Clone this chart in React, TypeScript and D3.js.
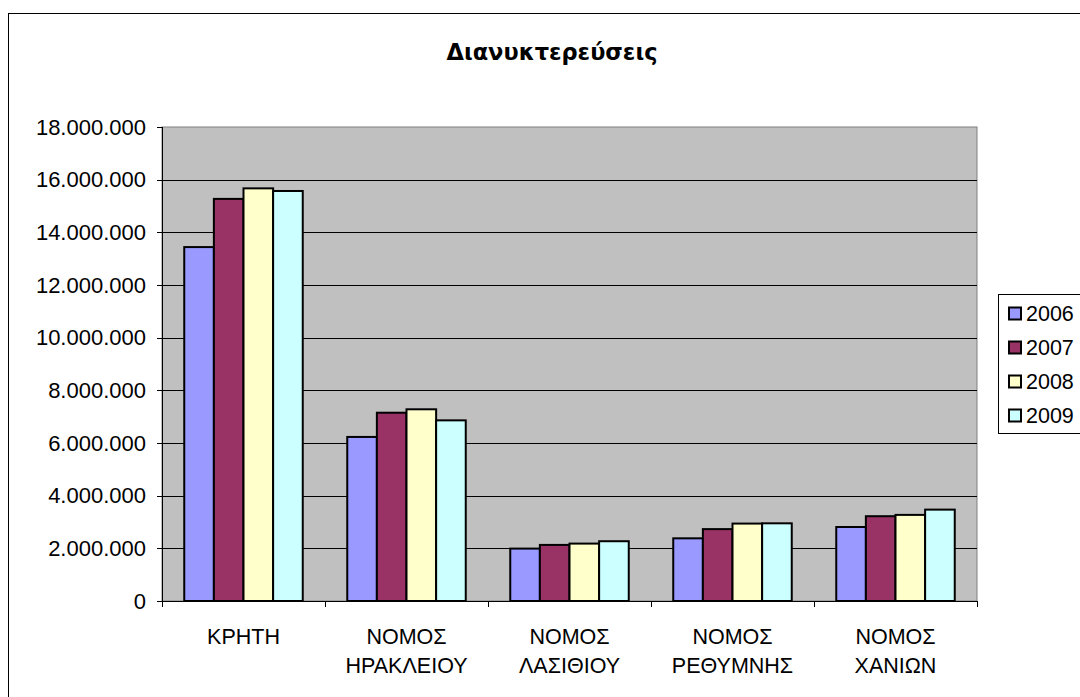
import React from "react";
import * as d3 from "d3";

const categories: string[][] = [
  ["ΚΡΗΤΗ"],
  ["ΝΟΜΟΣ", "ΗΡΑΚΛΕΙΟΥ"],
  ["ΝΟΜΟΣ", "ΛΑΣΙΘΙΟΥ"],
  ["ΝΟΜΟΣ", "ΡΕΘΥΜΝΗΣ"],
  ["ΝΟΜΟΣ", "ΧΑΝΙΩΝ"],
];
const seriesNames = ["2006", "2007", "2008", "2009"];
const values2006 = [13440000, 6230000, 1990000, 2380000, 2810000];
const values2007 = [15270000, 7150000, 2130000, 2730000, 3220000];
const values2008 = [15670000, 7280000, 2180000, 2940000, 3270000];
const values2009 = [15570000, 6860000, 2270000, 2950000, 3470000];
const yTicks = [0, 2000000, 4000000, 6000000, 8000000, 10000000, 12000000, 14000000, 16000000, 18000000];
const title = "Διανυκτερεύσεις";
const colors = ["#9999FF", "#993366", "#FFFFCC", "#CCFFFF"];

const seriesValues = [values2006, values2007, values2008, values2009];

const W = 1080;
const H = 697;
const plot = { left: 162, right: 977, top: 127, bottom: 601 };
const font = "'Liberation Sans', Arial, sans-serif";

const locale = d3.formatLocale({ decimal: ",", thousands: ".", grouping: [3], currency: ["", ""] });
const fmt = locale.format(",");

export default function App() {
  const x = d3
    .scaleBand<number>()
    .domain(categories.map((_, i) => i))
    .range([plot.left, plot.right])
    .paddingInner(0.273)
    .paddingOuter(0.1365);
  const xs = d3
    .scaleBand<number>()
    .domain(seriesNames.map((_, i) => i))
    .range([0, x.bandwidth()])
    .padding(0);
  const y = d3.scaleLinear().domain([0, 18000000]).range([plot.bottom, plot.top]);
  const step = (plot.right - plot.left) / categories.length;

  return (
    <svg
      width={W}
      height={H}
      style={{ position: "absolute", left: 0, top: 0, overflow: "hidden" }}
      xmlns="http://www.w3.org/2000/svg"
    >
      <rect x={0} y={0} width={W} height={H} fill="#fff" />
      <rect x={8.5} y={13.5} width={W + 20} height={H + 20} fill="#fff" stroke="#000" strokeWidth={1} />
      <text
        x={552}
        y={60}
        textAnchor="middle"
        fontFamily="'DejaVu Sans', Verdana, sans-serif"
        fontWeight="bold"
        fontSize={22.5}
        fill="#000"
      >
        {title}
      </text>

      {/* plot area */}
      <rect
        x={plot.left}
        y={plot.top}
        width={plot.right - plot.left}
        height={plot.bottom - plot.top}
        fill="#C0C0C0"
        stroke="#808080"
        strokeWidth={1}
      />
      {yTicks.map((t) =>
        t > 0 && t < 18000000 ? (
          <line
            key={"g" + t}
            x1={plot.left}
            x2={plot.right}
            y1={Math.round(y(t)) + 0.5}
            y2={Math.round(y(t)) + 0.5}
            stroke="#000"
            strokeWidth={1}
          />
        ) : null
      )}

      {/* bars */}
      {categories.map((_, ci) =>
        seriesValues.map((vals, si) => (
          <rect
            key={ci + "-" + si}
            x={(x(ci) as number) + (xs(si) as number)}
            y={y(vals[ci])}
            width={xs.bandwidth()}
            height={plot.bottom - y(vals[ci])}
            fill={colors[si]}
            stroke="#000"
            strokeWidth={2}
          />
        ))
      )}

      {/* axes */}
      <line x1={plot.left + 0.5} x2={plot.left + 0.5} y1={plot.top} y2={plot.bottom} stroke="#000" strokeWidth={1} />
      <line x1={plot.left - 5} x2={plot.right} y1={plot.bottom + 0.5} y2={plot.bottom + 0.5} stroke="#000" strokeWidth={1} />
      {yTicks.map((t) => (
        <g key={"t" + t}>
          <line
            x1={plot.left - 5}
            x2={plot.left}
            y1={Math.round(y(t)) + 0.5}
            y2={Math.round(y(t)) + 0.5}
            stroke="#000"
          />
          <text
            x={146}
            y={y(t) + 7.5}
            textAnchor="end"
            fontFamily={font}
            fontSize={22}
            fill="#000"
          >
            {fmt(t)}
          </text>
        </g>
      ))}
      {d3.range(categories.length + 1).map((i) => (
        <line
          key={"ct" + i}
          x1={Math.round(plot.left + i * step) + 0.5}
          x2={Math.round(plot.left + i * step) + 0.5}
          y1={plot.bottom}
          y2={plot.bottom + 6}
          stroke="#000"
        />
      ))}
      {categories.map((lines, ci) => (
        <text
          key={"cl" + ci}
          x={(x(ci) as number) + x.bandwidth() / 2}
          y={644}
          textAnchor="middle"
          fontFamily={font}
          fontSize={21.5}
          fill="#000"
        >
          {lines.map((l, li) => (
            <tspan key={li} x={(x(ci) as number) + x.bandwidth() / 2} dy={li === 0 ? 0 : 28.5}>
              {l}
            </tspan>
          ))}
        </text>
      ))}

      {/* legend */}
      <rect x={998.5} y={294.5} width={100} height={139} fill="#fff" stroke="#000" strokeWidth={1} />
      {seriesNames.map((s, i) => {
        const cy = 313.5 + i * 34;
        return (
          <g key={"l" + s}>
            <rect x={1009} y={cy - 6} width={12} height={12} fill={colors[i]} stroke="#000" strokeWidth={2} />
            <text x={1026} y={cy + 7.5} fontFamily={font} fontSize={21.5} fill="#000">
              {s}
            </text>
          </g>
        );
      })}
    </svg>
  );
}
